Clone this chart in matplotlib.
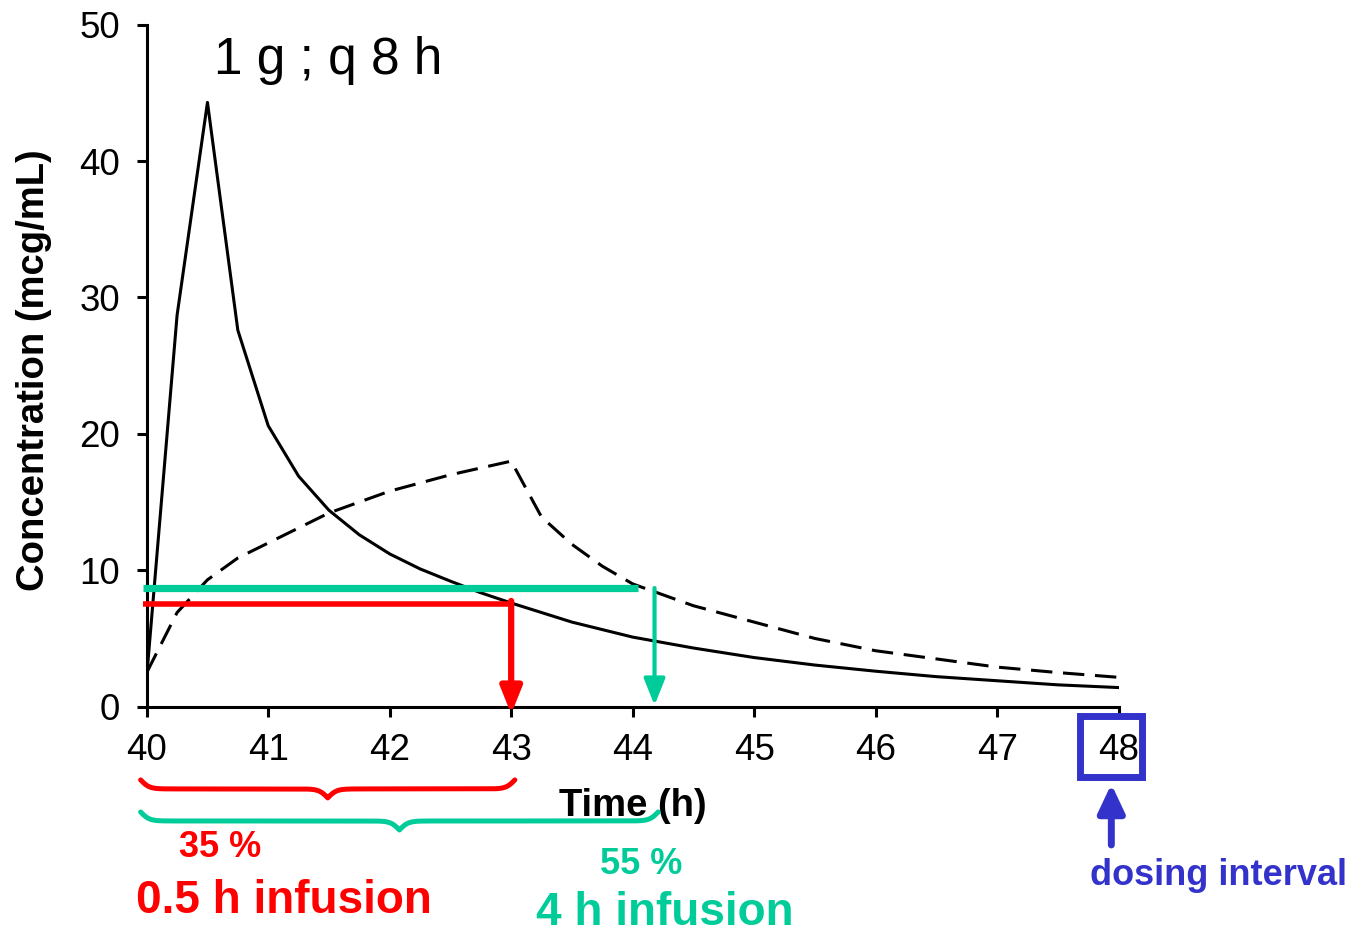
import matplotlib
matplotlib.use("Agg")
import matplotlib.pyplot as plt
import numpy as np
from matplotlib.patches import Rectangle

plt.rcParams['font.family'] = ['Liberation Sans', 'DejaVu Sans']

# concentration profiles
t_short = [40, 40.25, 40.5, 40.75, 41, 41.25, 41.5, 41.75, 42, 42.25, 42.5, 42.75,
           43, 43.5, 44, 44.5, 45, 45.5, 46, 46.5, 47, 47.5, 48]
c_short = [2.2, 28.7, 44.3, 27.6, 20.6, 16.9, 14.4, 12.6, 11.2, 10.1, 9.2, 8.35,
           7.6, 6.2, 5.1, 4.3, 3.6, 3.05, 2.6, 2.2, 1.9, 1.6, 1.4]

t_long = [40, 40.25, 40.5, 40.75, 41, 41.25, 41.5, 41.75, 42, 42.5, 43, 43.25,
          43.5, 43.75, 44, 44.5, 45, 45.5, 46, 46.5, 47, 47.5, 48]
c_long = [2.5, 6.9, 9.3, 10.9, 12.0, 13.1, 14.2, 15.0, 15.8, 17.0, 18.0, 13.9,
          11.9, 10.3, 9.0, 7.4, 6.2, 5.0, 4.1, 3.5, 2.9, 2.5, 2.15]

x_ticks = [40, 41, 42, 43, 44, 45, 46, 47, 48]
y_ticks = [0, 10, 20, 30, 40, 50]

# threshold annotations
red_level, red_end = 7.55, 43.0
green_level, green_end, green_drop = 8.7, 44.04, 44.18
red_pct, green_pct = "35 %", "55 %"

RED = "#ff0000"
GREEN = "#00cc99"
BLUE = "#3333cc"
W, H = 1366, 934


def fx(px):
    return px / W


def fy(py):
    return 1 - py / H


def brace(ax, x0, x1, ytop, h, color, lw):
    # curly brace opening upward, drawn in data units
    beta = 28.0
    xm = (x0 + x1) / 2
    xl = np.linspace(x0, xm, 200)
    yl = 1 / (1 + np.exp(-beta * (xl - x0))) + 1 / (1 + np.exp(-beta * (xl - xm)))
    xs = np.concatenate((xl, x0 + x1 - xl[-2::-1]))
    ys = np.concatenate((yl, yl[-2::-1]))
    ax.plot(xs, ytop - h * (ys - 0.5), color=color, lw=lw,
            clip_on=False, zorder=6, solid_capstyle='round')


fig = plt.figure(figsize=(13.66, 9.34), dpi=100)
ax = fig.add_axes([0.1074, 0.2434, 0.7115, 0.7302])

ax.plot(t_short, c_short, color='black', lw=2.2, zorder=3)
ax.plot(t_long, c_long, color='black', lw=2.2, dashes=[7, 3.5], zorder=3)

ax.set_xlim(40, 48)
ax.set_ylim(0, 50)
ax.set_xticks(x_ticks)
ax.set_yticks(y_ticks)
ax.spines['top'].set_visible(False)
ax.spines['right'].set_visible(False)
for s in ['left', 'bottom']:
    ax.spines[s].set_linewidth(2.2)
ax.tick_params(labelsize=26.5, length=7, width=2.2)
ax.tick_params(axis='x', pad=12)
ax.tick_params(axis='y', pad=12)

ax.set_xlabel('Time (h)', fontsize=27.5, fontweight='bold')
ax.xaxis.set_label_coords(0.5, -0.119)
ax.set_ylabel('Concentration (mcg/mL)', fontsize=27.5, fontweight='bold')
ax.yaxis.set_label_coords(-0.0974, 0.494)

# green: 4 h infusion threshold
ax.plot([39.97, green_end], [green_level, green_level], color=GREEN, lw=5.2,
        clip_on=False, zorder=4, solid_capstyle='butt')
ax.annotate('', xy=(green_drop, 0.1), xytext=(green_drop, green_level),
            arrowprops=dict(arrowstyle='-|>,head_length=0.8,head_width=0.32',
                            mutation_scale=20, color=GREEN, lw=3,
                            shrinkA=0, shrinkB=0),
            annotation_clip=False, zorder=5)

# red: 0.5 h infusion threshold
ax.plot([39.97, red_end], [red_level, red_level], color=RED, lw=4,
        clip_on=False, zorder=4, solid_capstyle='butt')
ax.annotate('', xy=(red_end, -0.55), xytext=(red_end, red_level + 0.2),
            arrowprops=dict(arrowstyle='-|>,head_length=0.8,head_width=0.32',
                            mutation_scale=20, color=RED, lw=4.5,
                            shrinkA=0, shrinkB=0),
            annotation_clip=False, zorder=5)

# braces under the axis
brace(ax, 39.95, 43.03, -5.37, 1.32, RED, 3.6)
brace(ax, 39.95, 44.21, -7.72, 1.32, GREEN, 3.6)

# dosing interval box and arrow
ax.add_patch(Rectangle((47.685, -5.12), 0.51, 4.47, fill=False, edgecolor=BLUE,
                       lw=5, clip_on=False, zorder=6))
ax.annotate('', xy=(47.94, -5.67), xytext=(47.94, -10.14),
            arrowprops=dict(arrowstyle='-|>,head_length=0.85,head_width=0.4',
                            mutation_scale=20, color=BLUE, lw=5,
                            shrinkA=0, shrinkB=0),
            annotation_clip=False, zorder=6)

fig.text(fx(328), fy(74), '1 g ; q 8 h', fontsize=37, ha='center', va='baseline')
fig.text(fx(220), fy(857), red_pct, fontsize=26, fontweight='bold', color=RED,
         ha='center', va='baseline')
fig.text(fx(641), fy(874), green_pct, fontsize=26, fontweight='bold', color=GREEN,
         ha='center', va='baseline')
fig.text(fx(284), fy(913), '0.5 h infusion', fontsize=33, fontweight='bold',
         color=RED, ha='center', va='baseline')
fig.text(fx(665), fy(925), '4 h infusion', fontsize=33, fontweight='bold',
         color=GREEN, ha='center', va='baseline')
fig.text(fx(1218), fy(885), 'dosing interval', fontsize=26, fontweight='bold',
         color=BLUE, ha='center', va='baseline')

fig.savefig('out.png', dpi=100)
